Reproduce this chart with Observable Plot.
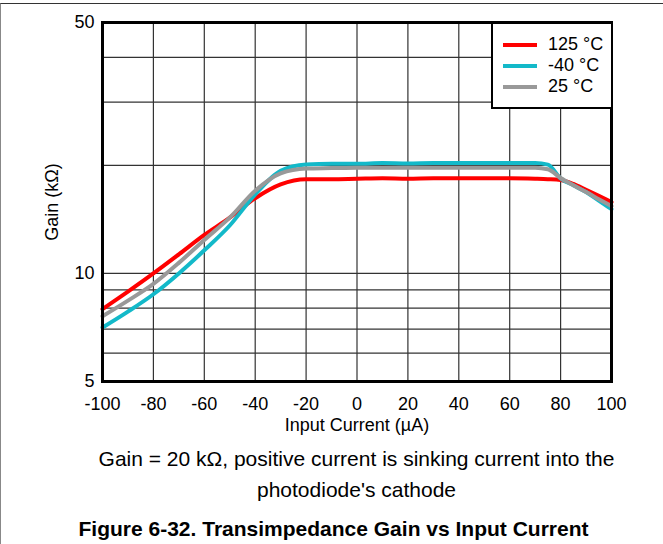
<!DOCTYPE html>
<html>
<head>
<meta charset="utf-8">
<script src="https://cdn.jsdelivr.net/npm/d3@7"></script>
<script src="https://cdn.jsdelivr.net/npm/@observablehq/plot@0.6"></script>
<style>
  body { margin: 0; background: #fff; font-family: "Liberation Sans", Arial, sans-serif; }
  #wrap { position: relative; width: 663px; height: 544px; overflow: hidden; }
  #border { position: absolute; left: 0; top: 3px; width: 680px; height: 600px; border-left: 1px solid #888; border-top: 1px solid #333; }
  #chart { position: absolute; left: 0; top: 0; }
  .cap { position: absolute; left: 0; width: 663px; text-align: center; color: #000; line-height: 24px; }
  .axt { position: absolute; font-size: 18px; line-height: 20px; white-space: nowrap; color: #000; }
  #legend { position: absolute; left: 491px; top: 22px; width: 118px; height: 83px; border: 2px solid #000; background: #fff; box-sizing: content-box; }
  .li { position: absolute; left: 10px; height: 21px; display: flex; align-items: center; font-size: 18px; }
  .sw { width: 34px; height: 4px; margin-right: 11px; }
</style>
</head>
<body>
<div id="wrap">
  <div id="border"></div>
  <div id="chart"></div>
  <div id="legend"></div>
  <div class="axt" id="xt" style="left:257px;width:200px;text-align:center;top:415px;">Input Current (µA)</div>
  <div class="axt" id="yt" style="left:-48px;width:200px;text-align:center;top:192px;transform:rotate(-90deg);">Gain (kΩ)</div>
  <div class="cap" style="top:447px;font-size:21px;padding-left:50px;box-sizing:border-box;">Gain = 20 kΩ, positive current is sinking current into the</div>
  <div class="cap" style="top:478px;font-size:21px;padding-left:50px;box-sizing:border-box;">photodiode's cathode</div>
  <div class="cap" style="top:517px;font-size:21px;font-weight:bold;padding-left:4px;box-sizing:border-box;">Figure 6-32. Transimpedance Gain vs Input Current</div>
</div>
<script>
const current = [-100,-90,-80,-70,-60,-50,-40,-30,-20,-10,0,10,20,30,40,50,60,70,75,80,85,90,95,100];
const gain125 = [7.95,8.9,10.0,11.3,12.8,14.3,16.2,17.7,18.3,18.3,18.35,18.4,18.35,18.4,18.4,18.4,18.4,18.35,18.3,18.2,17.75,17.1,16.45,15.8];
const gainM40 = [7.07,7.83,8.75,10.0,11.6,13.6,16.6,19.3,20.1,20.2,20.2,20.3,20.25,20.3,20.3,20.3,20.3,20.3,20.1,18.4,17.6,16.85,15.95,15.1];
const gain25  = [7.6,8.4,9.35,10.7,12.4,14.3,17.0,19.0,19.6,19.65,19.7,19.7,19.7,19.7,19.7,19.7,19.7,19.7,19.5,18.45,17.6,16.85,16.1,15.4];
const seriesNames = ["125 °C","-40 °C","25 °C"];
const seriesColors = ["#ff0000","#13b9c9","#999999"];
const xTicks = [-100,-80,-60,-40,-20,0,20,40,60,80,100];
const yTicks = [5,10,50];
const xGrid = [-80,-60,-40,-20,0,20,40,60,80];
const yGrid = [6,7,8,9,10,20,30,40];

const allSeries = [gain125, gainM40, gain25];
const rows = [];
allSeries.forEach((vals, si) => {
  vals.forEach((v, i) => rows.push({x: current[i], y: v, s: seriesNames[si]}));
});

const chart = Plot.plot({
  width: 663,
  height: 440,
  marginLeft: 102,
  marginRight: 52,
  marginTop: 22,
  marginBottom: 59,
  style: {fontFamily: "Liberation Sans, Arial, sans-serif", fontSize: "18px", color: "#000", background: "transparent"},
  x: {domain: [-100, 100]},
  y: {type: "log", domain: [5, 50]},
  color: {domain: seriesNames, range: seriesColors},
  marks: [
    Plot.ruleX(xGrid, {stroke: "#333", strokeWidth: 1.2}),
    Plot.ruleY(yGrid, {stroke: "#333", strokeWidth: 1.2}),
    ...seriesNames.map(name => Plot.line(rows.filter(r => r.s === name), {
      x: "x", y: "y", stroke: "s", strokeWidth: 4, curve: "monotone-x"
    })),
    Plot.frame({stroke: "#000", strokeWidth: 3}),
    Plot.axisX(xTicks, {tickSize: 0, tickPadding: 16, fontSize: 18, tickFormat: d => String(d), label: null}),
    Plot.axisY(yTicks, {tickSize: 0, tickPadding: 8, fontSize: 18, tickFormat: d => String(d), label: null})
  ]
});
document.getElementById("chart").appendChild(chart);

const legend = document.getElementById("legend");
seriesNames.forEach((n, i) => {
  const item = document.createElement("div");
  item.className = "li";
  item.style.top = (10 + i * 21) + "px";
  item.innerHTML = `<span class="sw" style="background:${seriesColors[i]}"></span><span>${n}</span>`;
  legend.appendChild(item);
});
</script>
</body>
</html>
